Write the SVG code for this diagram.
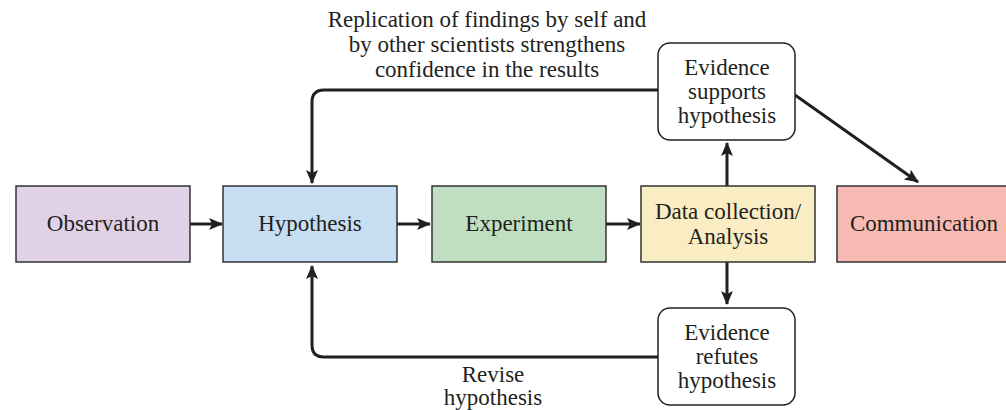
<svg xmlns="http://www.w3.org/2000/svg" width="1006" height="410" viewBox="0 0 1006 410">
<defs>
<marker id="ah" markerWidth="14" markerHeight="12" refX="13" refY="6" orient="auto" markerUnits="userSpaceOnUse">
<path d="M0,0 L14,6 L0,12 L3,6 Z" fill="#231f20"/>
</marker>
<style>
.box{stroke:#333;stroke-width:1.5}
.ev{fill:#fff;stroke:#231f20;stroke-width:1.5}
.t{font-size:23px;fill:#231f20;text-anchor:middle}
.c{fill:none;stroke:#231f20;stroke-width:3;marker-end:url(#ah)}
</style>
</defs>
<rect width="1006" height="410" fill="#fff"/>
<g id="connectors">
<path class="c" d="M190,224 H222"/>
<path class="c" d="M397,224 H430"/>
<path class="c" d="M606,224 H640"/>
<path class="c" d="M727,186 V143"/>
<path class="c" d="M727,262 V304"/>
<path class="c" d="M658,90 H324 Q312,90 312,102 V183"/>
<path class="c" d="M658,357 H324 Q312,357 312,345 V266"/>
<path class="c" d="M795,95 L918,182"/>
</g>
<g font-family="'Liberation Serif', 'Times New Roman', serif">
<g id="observation"><rect class="box" x="16" y="186" width="174" height="76" fill="#e1d1e6"/><text class="t" x="103" y="231">Observation</text></g>
<g id="hypothesis"><rect class="box" x="223" y="186" width="174" height="76" fill="#c7ddf1"/><text class="t" x="310" y="231">Hypothesis</text></g>
<g id="experiment"><rect class="box" x="432" y="186" width="174" height="76" fill="#c0dfc0"/><text class="t" x="519" y="231">Experiment</text></g>
<g id="data"><rect class="box" x="641" y="186" width="174" height="76" fill="#faedc4"/><text class="t" x="728" y="219">Data collection/</text><text class="t" x="728" y="244">Analysis</text></g>
<g id="communication"><rect class="box" x="837" y="186" width="175" height="76" fill="#f7bbb4"/><text class="t" x="924" y="231">Communication</text></g>
<g id="supports"><rect class="ev" x="658" y="43" width="137" height="97" rx="12"/><text class="t" x="727" y="75">Evidence</text><text class="t" x="727" y="99">supports</text><text class="t" x="727" y="123">hypothesis</text></g>
<g id="refutes"><rect class="ev" x="658" y="308" width="137" height="97" rx="12"/><text class="t" x="727" y="340">Evidence</text><text class="t" x="727" y="364">refutes</text><text class="t" x="727" y="388">hypothesis</text></g>
<g id="labels">
<text class="t" x="487" y="27">Replication of findings by self and</text>
<text class="t" x="487" y="52">by other scientists strengthens</text>
<text class="t" x="487" y="77">confidence in the results</text>
<text class="t" x="493" y="382">Revise</text>
<text class="t" x="493" y="405">hypothesis</text>
</g>
</g>
</svg>
